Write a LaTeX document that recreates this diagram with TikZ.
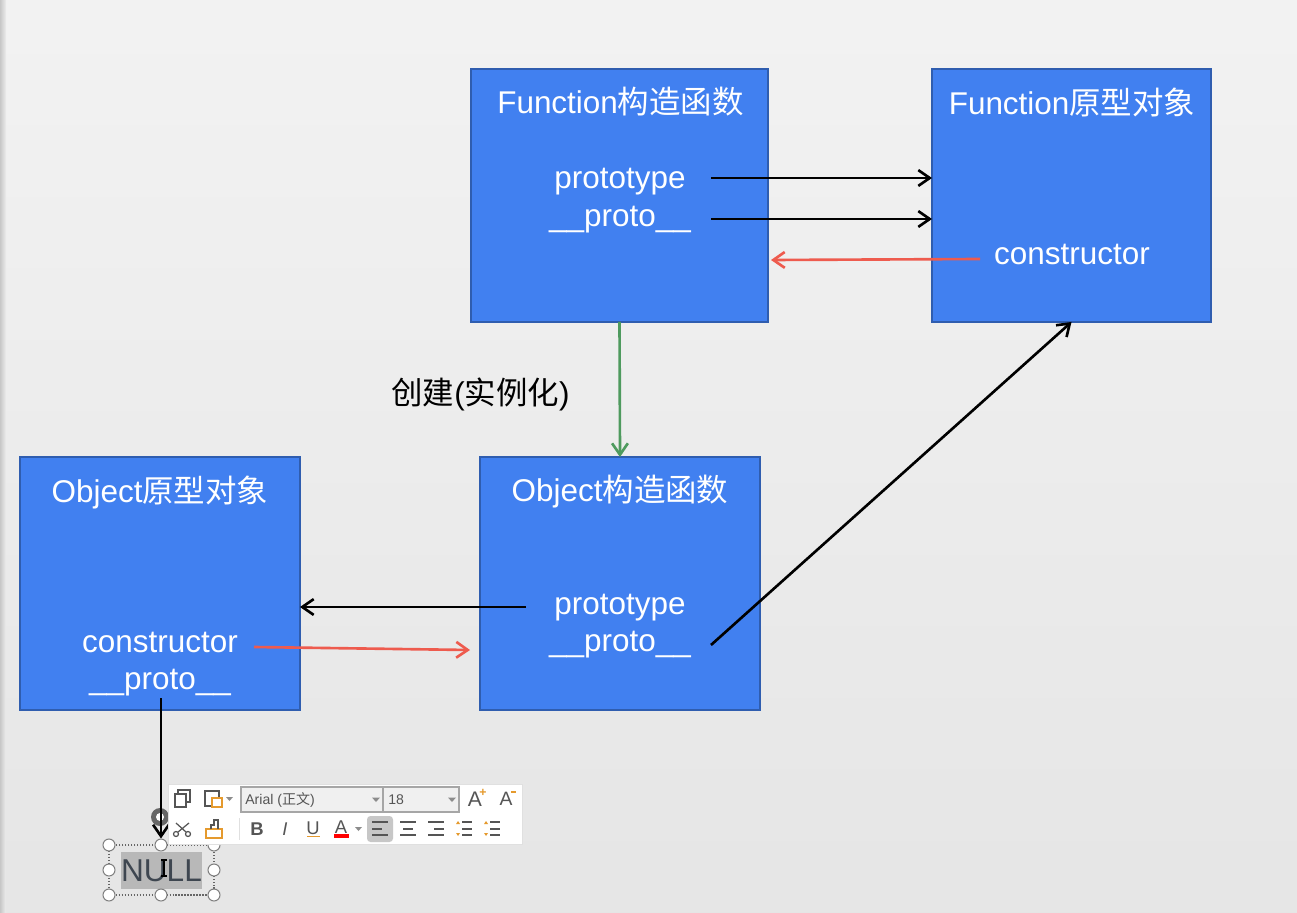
\documentclass[tikz,border=0pt]{standalone}
\usepackage{fontspec}
\setmainfont{Liberation Sans}
\newfontfamily\cjk{Noto Sans CJK SC}
\usetikzlibrary{arrows.meta,shadows}
\definecolor{boxblue}{HTML}{4180F0}
\definecolor{boxedge}{HTML}{2F5DAF}
\definecolor{redline}{HTML}{EE5B4E}
\definecolor{greenline}{HTML}{4E9A5E}
\definecolor{iconorange}{HTML}{E59A2E}
\definecolor{icongray}{HTML}{555555}
\definecolor{nullgray}{HTML}{3E4650}
\tikzset{
  objbox/.style={draw=boxedge,fill=boxblue,line width=1pt,inner sep=0pt,outer sep=0pt},
  boxtext/.style={text=white,font=\fontsize{17.9}{21}\selectfont,inner sep=0pt},
  barb/.style={-{Straight Barb[length=6.5pt,width=9pt]},line width=1.5pt},
  handle/.style={circle,draw=gray,fill=white,line width=.6pt,minimum size=.24cm,inner sep=0pt},
  icon/.style={icongray,line width=.7pt},
  tooltext/.style={text=icongray,font=\fontsize{8}{10}\selectfont,inner sep=0pt,anchor=west},
  combo/.style={draw=gray!70,fill=black!6,line width=.8pt},
}
\begin{document}
\begin{tikzpicture}[x=0.02cm,y=-0.02cm]
\useasboundingbox (0,0) rectangle (1297,912);
% backdrop
\shade[top color=black!5,bottom color=black!10] (0,0) rectangle (1297,912);
\shade[left color=black!22,right color=black!7] (0,0) rectangle (6,912);

% the four boxes
\node[objbox,minimum width=5.94cm,minimum height=5.06cm] (funcbox) at (619.5,195.5) {};
\node[objbox,minimum width=5.58cm,minimum height=5.06cm] (funcproto) at (1071.5,195.5) {};
\node[objbox,minimum width=5.6cm,minimum height=5.06cm] (objbox) at (620,583.5) {};
\node[objbox,minimum width=5.6cm,minimum height=5.06cm] (objproto) at (160,583.5) {};

% texts of the boxes
\node[boxtext] (t1) at (620.5,102) {Function{\cjk 构造函数}};
\node[boxtext] (t2) at (620,182) {prototype};
\node[boxtext] (t3) at (620,220) {\_\_proto\_\_};
\node[boxtext] (t4) at (1072,102) {Function{\cjk 原型对象}};
\node[boxtext] (t5) at (1072,254) {constructor};
\node[boxtext] (t6) at (620,492) {Object{\cjk 构造函数}};
\node[boxtext] (t7) at (620,608) {prototype};
\node[boxtext] (t8) at (620,645) {\_\_proto\_\_};
\node[boxtext] (t9) at (160,492) {Object{\cjk 原型对象}};
\node[boxtext] (t10) at (160,642) {constructor};
\node[boxtext] (t11) at (160,683) {\_\_proto\_\_};
\node[boxtext,text=black] (create) at (480.5,394) {{\cjk 创建}({\cjk 实例化})};

% free ends of the connectors
\coordinate (a1) at (711,178);
\coordinate (a2) at (711,219);
\coordinate (a3) at (980,259);
\coordinate (a4) at (771,260);
\coordinate (a5) at (526,607);
\coordinate (a6) at (254,647);
\coordinate (a7) at (470,650);
\coordinate (a8) at (711,645);
\coordinate (a9) at (161,698);

% selected text box at the bottom
\fill[black!28] (121,852) rectangle (202,889);
\node[text=nullgray,font=\fontsize{18}{21}\selectfont,inner sep=0pt] (nulltext) at (161.5,870.5) {NULL};
\draw[black!60,densely dotted,line width=.7pt] (109,845) rectangle (214,895);
\fill[black!60] (160,817) circle (9);
\fill[white] (160,817) circle (4);

\draw[barb] (a1) -- (funcproto.west |- a1);
\draw[barb] (a2) -- (funcproto.west |- a2);
\draw[barb,redline] (a3) -- (a4);
\draw[barb,greenline] (funcbox.south) -- (objbox.north);
\draw[barb] (a5) -- (objproto.east |- a5);
\draw[barb,redline] (a6) -- (a7);
\draw[barb] (a8) -- (funcproto.south);

\foreach \n/\px/\py in {h1/109/845,h3/214/845,h4/109/870,h5/214/870,h6/109/895,h7/161/895,h8/214/895}
  \node[handle] (\n) at (\px,\py) {};
\node[handle] (h2) at (161,845) {};
\draw[barb] (a9) -- (h2.north);
% cursor
\draw[black,line width=.6pt] (161,860) -- (167,860) (164,860) -- (164,876) (161,876) -- (167,876);

% toolbar
\node[draw=black!12,fill=white,drop shadow={shadow xshift=.3pt,shadow yshift=-.6pt,opacity=.2},minimum width=7.08cm,minimum height=1.2cm,inner sep=0pt] (toolbar) at (345,814) {};
\draw[combo] (241,787) rectangle (383,812);
\draw[combo] (383,787) rectangle (459,812);
\node[tooltext] (fontname) at (245,799.5) {Arial ({\cjk 正文})};
\node[tooltext] (fontsize) at (388,799.5) {18};
\fill[black!45] (372,797.5) -- (380,797.5) -- (376,802) -- cycle;
\fill[black!45] (448,797.5) -- (456,797.5) -- (452,802) -- cycle;
\fill[black!45] (226,797) -- (233,797) -- (229.5,801) -- cycle;
\fill[black!45] (355,827) -- (362,827) -- (358.5,831) -- cycle;
\node[tooltext,anchor=center,font=\fontsize{12}{14}\selectfont] (bigger) at (475,799) {A};
\node[text=iconorange,font=\bfseries\fontsize{7}{8}\selectfont,inner sep=0pt] (biggerplus) at (483,793) {+};
\node[tooltext,anchor=center,font=\fontsize{11}{14}\selectfont] (smaller) at (506,799) {A};
\draw[iconorange,line width=.7pt] (511,792) -- (516,792);
% copy, paste
\draw[icon,fill=white] (178,790) rectangle (190,802);
\draw[icon,fill=white] (175,794) rectangle (186,807);
\draw[icon,fill=white] (205,791) rectangle (219,806);
\draw[iconorange,fill=white,line width=.7pt] (212,798) rectangle (222,807);
% cut, format brush
\draw[icon] (176,834) circle (2.5) (188,834) circle (2.5) (178,832) -- (189,823) (186,832) -- (176,823);
\draw[iconorange,line width=.8pt] (206,829) rectangle (222,838);
\draw[icon] (211,829) -- (211,825) -- (214,825) -- (214,820) -- (218,820) -- (218,825) -- (218,829);
\draw[black!12] (239,818) -- (239,840);
% character buttons
\node[tooltext,anchor=center,font=\bfseries\fontsize{10.5}{12}\selectfont] (bold) at (257,829) {B};
\node[tooltext,anchor=center,font=\itshape\fontsize{10.5}{12}\selectfont] (italic) at (285,829) {I};
\node[tooltext,anchor=center,font=\fontsize{10.5}{12}\selectfont] (under) at (313,828) {U};
\draw[iconorange,line width=.8pt] (307,836.5) -- (320,836.5);
\node[tooltext,anchor=center,font=\fontsize{10.5}{12}\selectfont] (color) at (341,827) {A};
\draw[red,line width=2pt] (334,836) -- (349,836);
% paragraph buttons
\fill[black!22,rounded corners=2pt] (367,816) rectangle (393,842);
\foreach \yy/\xe in {822/388,829/382,835/388}
  \draw[icon] (372,\yy) -- (\xe,\yy);
\foreach \yy/\xa/\xe in {822/400/416,829/403/413,835/400/416}
  \draw[icon] (\xa,\yy) -- (\xe,\yy);
\foreach \yy/\xa in {822/428,829/434,835/428}
  \draw[icon] (\xa,\yy) -- (444,\yy);
\foreach \cx in {464,492} {
  \foreach \yy in {822,829,835}
    \draw[icon] (\cx-2,\yy) -- (\cx+8,\yy);
  \fill[iconorange] (\cx-8,824) -- (\cx-4,824) -- (\cx-6,821) -- cycle;
  \fill[iconorange] (\cx-8,833) -- (\cx-4,833) -- (\cx-6,836) -- cycle;
}
\end{tikzpicture}
\end{document}
